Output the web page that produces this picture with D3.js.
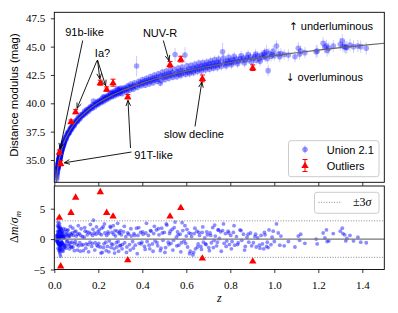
<!DOCTYPE html>
<html><head><meta charset="utf-8">
<script src="https://cdn.jsdelivr.net/npm/d3@7"></script>
<style>body{margin:0;background:#fff}svg{display:block}</style>
</head><body><svg id="c" width="398" height="313"></svg>
<script>
// ---------------- data ----------------
const unionZ = [
0.0105,0.011,0.012,0.012,0.013,0.014,0.014,0.015,0.015,0.016,0.016,0.016,0.017,0.017,0.017,0.018,0.018,0.018,0.019,0.019,
0.019,0.020,0.020,0.020,0.021,0.021,0.021,0.022,0.022,0.022,0.023,0.023,0.023,0.024,0.024,0.024,0.025,0.025,0.025,0.026,
0.026,0.026,0.027,0.027,0.027,0.028,0.028,0.028,0.029,0.029,0.029,0.030,0.030,0.031,0.031,0.032,0.032,0.033,0.033,0.034,
0.035,0.036,0.036,0.037,0.038,0.039,0.040,0.041,0.042,0.043,0.044,0.046,0.048,0.050,0.052,0.054,0.056,0.058,0.060,
0.062,0.064,0.066,0.068,0.070,0.072,0.074,0.076,0.078,0.080,0.082,0.085,0.088,0.090,0.093,0.096,0.100,0.103,0.106,0.110,
0.113,0.116,0.120,0.124,0.128,0.132,0.136,0.140,0.145,0.150,0.154,0.158,0.162,0.166,0.170,0.174,0.178,0.182,0.186,0.190,
0.194,0.198,0.202,0.206,0.210,0.214,0.218,0.222,0.226,0.230,0.234,0.238,0.242,0.246,0.250,0.254,0.258,0.262,0.266,0.270,
0.274,0.278,0.282,0.286,0.290,0.295,0.300,
0.305,0.310,0.315,0.320,0.325,0.330,0.338,0.345,0.350,0.356,0.362,0.368,0.374,0.380,0.386,0.392,0.398,0.404,0.410,0.416,
0.422,0.428,0.434,0.440,0.446,0.452,0.458,0.464,0.470,0.476,0.482,0.488,0.494,0.500,0.506,0.512,0.518,0.524,0.530,0.536,
0.542,0.549,0.555,0.560,0.566,0.572,0.578,0.584,0.590,0.594,0.600,0.606,0.612,0.618,0.624,0.630,0.636,0.642,0.648,0.654,
0.660,0.666,0.672,0.678,0.684,0.690,0.696,0.702,0.708,0.714,0.720,0.726,0.732,0.738,0.744,0.750,0.756,0.765,0.772,0.778,
0.784,0.790,0.796,0.802,0.808,0.814,0.820,0.828,0.836,0.844,0.852,0.860,0.868,0.876,0.884,0.892,
0.905,0.912,0.918,0.925,0.932,0.940,0.946,0.952,0.958,0.965,0.972,0.976,0.985,0.990,1.000,1.010,1.018,1.030,1.045,1.064,
1.094,1.109,1.120,1.139,1.190,1.195,1.222,1.237,1.240,1.248,1.268,1.309,1.312,1.320,1.325,1.344,1.360,1.380,1.393,1.418,
0.0155,0.0175,0.0185,0.0205,0.0215,0.0235,0.0245,0.0255,0.0265,0.0275,0.0285,0.0295,0.0315,0.0325,0.0345,0.0355,0.0375,0.0395,0.0415,0.0435,
0.0455,0.0475,0.0510,0.0550,0.0590,
0.063,0.069,0.073,0.079,0.084,0.091,0.098,0.105,0.109,0.118,0.122,0.131,0.138,0.143,0.148,0.156,0.164,0.172,0.176,0.184,
0.192,0.199,0.204,0.212,0.216,0.224,0.228,0.236,0.244,0.248,0.256,0.260,0.268,0.272,0.276,0.284,0.288,0.292,0.297,0.299,
0.302,0.308,0.318,0.328,0.334,0.342,0.348,0.359,0.365,0.377,0.384,0.395,0.401,0.413,0.419,0.431,0.437,0.449,0.455,0.467,
0.473,0.485,0.491,0.503,0.509,0.521,0.527,0.539,0.545,0.557,0.563,0.575,0.581,0.597,0.603,0.615,0.621,0.633,0.639,0.651,
0.657,0.669,0.675,0.687,0.693,0.705,0.711,0.723,0.729,0.741,0.747,0.759,0.769,0.781,0.793,0.805,0.817,0.833,0.849,0.865,
0.881,0.897,
0.915,0.935,0.955,0.968,0.995,1.025,1.115,1.230,1.300,1.330];
const unionMu = [
33.30,33.45,33.62,33.75,33.85,33.92,34.08,34.10,34.25,34.22,34.38,34.30,34.35,34.48,34.62,34.45,34.58,34.70,34.60,34.75,
34.66,34.70,34.82,34.95,34.80,34.92,35.05,34.90,35.02,35.12,35.00,35.12,35.25,35.08,35.20,34.98,35.18,35.30,35.40,35.25,
35.38,35.15,35.35,35.48,35.58,35.42,35.55,35.30,35.52,35.64,35.72,35.60,35.72,35.68,35.80,35.78,35.90,35.85,35.95,35.90,
36.05,36.02,36.15,36.10,36.24,36.22,36.35,36.30,36.45,36.52,36.48,36.68,36.72,36.85,36.88,37.02,37.05,37.18,37.20,
37.35,37.30,37.48,37.45,37.62,37.60,37.75,37.70,37.88,37.85,38.00,37.95,38.15,38.10,38.30,38.25,38.45,38.40,38.58,38.55,
38.75,38.70,38.88,38.85,39.02,38.98,39.15,39.22,39.20,39.42,39.38,39.55,39.48,39.65,39.58,39.75,40.20,39.88,39.82,39.98,
39.90,40.10,40.02,40.18,40.12,40.28,40.20,40.55,40.30,40.48,40.40,40.55,40.48,40.65,40.58,40.90,40.62,41.00,40.70,40.88,
40.78,40.95,40.88,41.30,40.95,41.12,41.02,
41.15,41.05,41.25,41.12,41.30,41.20,41.45,41.30,41.50,41.40,41.60,41.48,43.29,41.70,41.62,41.85,41.72,41.90,41.78,42.00,
41.85,42.05,41.92,42.15,42.00,42.22,42.08,42.30,42.12,42.35,41.76,42.45,42.28,42.50,42.32,42.58,42.40,42.62,42.48,42.72,
42.52,44.30,42.60,42.78,42.55,42.85,42.62,42.92,42.70,44.26,42.92,42.75,43.02,42.80,43.05,42.85,43.12,42.95,43.20,43.00,
43.25,43.05,43.30,43.12,43.35,43.18,43.42,43.22,43.48,43.25,43.52,43.30,43.55,43.35,43.62,43.40,43.65,44.55,43.48,43.70,
43.50,43.75,43.55,43.80,43.60,43.85,43.65,43.90,43.70,43.95,43.75,44.00,43.82,44.05,43.85,44.10,
43.95,44.15,43.80,44.20,43.90,44.25,44.05,44.30,44.10,44.56,42.88,44.40,44.15,44.30,44.20,45.06,44.35,44.40,44.30,44.26,
44.11,44.85,44.60,44.47,44.56,44.62,45.29,45.06,44.66,44.85,45.06,45.52,45.06,45.00,44.90,45.15,45.00,45.06,45.00,44.85,
34.30,34.38,34.78,34.62,35.00,35.30,35.02,35.12,35.50,35.30,35.68,35.45,35.65,35.98,36.10,35.88,36.30,36.15,36.50,36.38,
36.72,36.60,37.00,36.90,37.30,
37.45,37.40,37.80,37.72,38.10,38.02,38.45,38.40,38.75,38.65,39.00,38.95,39.32,39.10,39.45,39.30,39.70,39.55,39.90,39.68,
40.10,39.90,40.25,40.05,40.40,40.15,40.60,40.30,40.70,40.42,40.85,40.55,40.98,40.65,41.10,40.75,41.20,40.85,41.25,40.90,
41.35,40.85,41.40,41.00,41.55,41.15,41.70,41.25,41.80,41.40,41.95,41.55,42.10,41.60,42.20,41.70,42.35,41.80,42.50,41.95,
42.60,42.00,42.75,42.10,42.85,42.20,42.95,42.30,43.00,42.35,43.10,42.45,43.20,42.55,43.30,42.60,43.35,42.70,43.45,42.80,
43.55,42.85,43.60,42.95,43.65,43.00,43.75,43.10,43.85,43.15,43.90,43.25,44.00,43.30,44.05,43.40,44.15,43.50,44.20,43.55,
44.30,43.65,
44.35,43.70,44.45,43.95,44.60,44.10,44.35,44.95,45.20,44.95];
const unionErr = [
.22,.20,.20,.18,.18,.17,.16,.16,.16,.15,.15,.15,.15,.14,.14,.14,.14,.14,.13,.13,
.13,.13,.13,.13,.13,.12,.12,.12,.12,.12,.12,.12,.12,.12,.12,.12,.12,.11,.11,.11,
.11,.11,.11,.11,.11,.11,.11,.11,.11,.11,.11,.10,.10,.10,.10,.10,.10,.10,.10,.10,
.10,.10,.10,.10,.10,.10,.10,.10,.10,.10,.10,.10,.10,.10,.10,.10,.10,.10,.10,
.12,.12,.12,.12,.12,.12,.12,.12,.12,.12,.12,.12,.12,.12,.12,.12,.13,.13,.13,.13,
.13,.13,.13,.13,.13,.13,.13,.13,.13,.13,.13,.13,.13,.13,.13,.13,.14,.14,.14,.14,
.14,.14,.14,.14,.14,.14,.14,.14,.14,.15,.15,.15,.15,.15,.15,.15,.15,.15,.15,.15,
.15,.15,.15,.15,.15,.15,.16,
.18,.18,.18,.18,.18,.18,.18,.18,.18,.18,.20,.20,.90,.20,.20,.20,.20,.22,.22,.22,
.22,.22,.22,.22,.22,.24,.24,.24,.24,.24,.24,.26,.26,.26,.26,.26,.26,.28,.28,.28,
.28,.60,.28,.28,.28,.30,.30,.30,.30,.70,.30,.30,.30,.30,.30,.30,.30,.30,.30,.32,
.32,.32,.32,.32,.32,.32,.32,.32,.34,.34,.34,.34,.34,.34,.34,.34,.36,.80,.36,.36,
.36,.36,.36,.38,.38,.38,.38,.38,.38,.40,.40,.40,.40,.40,.40,.40,
.40,.40,.40,.40,.42,.42,.42,.42,.45,.60,.50,.45,.45,.45,.45,.50,.45,.45,.45,.50,
.50,.55,.50,.50,.55,.55,.55,.55,.55,.55,.55,.60,.55,.55,.55,.55,.55,.55,.55,.55,
.16,.15,.14,.13,.13,.12,.12,.12,.11,.11,.11,.11,.10,.10,.10,.10,.10,.10,.10,.10,
.10,.10,.10,.10,.10,
.13,.13,.13,.13,.13,.13,.13,.13,.14,.14,.14,.14,.14,.14,.14,.14,.14,.14,.15,.15,
.15,.15,.15,.15,.15,.15,.16,.16,.16,.16,.16,.16,.16,.16,.17,.17,.17,.17,.17,.17,
.20,.20,.20,.20,.22,.22,.22,.22,.22,.24,.24,.24,.24,.26,.26,.26,.26,.26,.28,.28,
.28,.28,.30,.30,.30,.30,.30,.30,.30,.30,.32,.32,.32,.32,.32,.32,.32,.34,.34,.34,
.34,.34,.34,.36,.36,.36,.36,.36,.38,.38,.38,.38,.38,.40,.40,.40,.40,.40,.42,.42,
.42,.42,
.45,.45,.45,.45,.50,.50,.50,.55,.55,.55];
const unionPull = [
-0.3,0.4,-0.2,0.6,0.2,-0.4,0.7,-0.3,2.2,-0.5,0.8,0.1,-0.6,0.5,2.8,-0.8,0.2,1.2,-0.6,0.7,
-0.1,-0.7,0.3,1.9,-0.9,0.3,2.3,-0.8,0.2,1.4,-0.9,0.3,2.6,-1.2,0.2,-2.1,-0.8,0.4,1.3,-1.1,
0.2,-2.4,-0.9,0.6,2.0,-1.0,0.4,-2.8,-0.8,0.5,1.5,-0.9,0.5,-0.6,1.0,-0.4,0.9,-0.5,0.6,-0.7,
0.4,-0.6,0.8,-0.9,0.5,-0.8,0.3,-1.4,0.2,0.6,-1.0,0.5,-0.9,0.3,-1.1,0.8,-0.4,1.4,-0.3,
0.6,-0.8,0.4,-1.1,0.5,-0.6,0.9,-1.2,0.7,-0.5,1.0,-1.3,0.6,-0.7,1.2,-0.4,0.5,-0.9,0.8,-1.1,
0.9,-0.6,0.6,-1.0,0.4,-1.9,0.3,1.3,-0.8,0.7,-0.9,1.1,-0.5,0.9,-1.2,0.6,3.1,1.0,-0.6,0.8,
-1.0,1.2,-0.7,0.9,-1.3,0.7,-2.2,2.0,-0.8,1.0,-0.5,0.6,-1.2,0.9,-0.3,2.1,-1.4,1.1,-0.9,0.8,
-2.3,0.5,-0.6,1.3,-0.4,0.9,-1.0,
0.7,-0.9,1.2,-0.6,0.4,-1.3,0.8,-1.8,0.5,-0.4,0.9,-1.0,1.8,0.6,-0.7,1.1,-0.5,0.8,-1.2,1.0,
-0.4,0.6,-1.6,1.3,-0.8,0.9,-0.3,1.5,-1.1,0.7,-1.9,1.8,-0.2,1.1,-1.4,2.3,-0.5,0.9,-0.7,1.6,
-0.2,2.8,0.3,1.2,-1.0,0.8,-0.6,1.4,-0.3,2.2,0.5,-1.3,1.0,-2.0,0.4,-2.6,0.9,-1.6,1.3,-0.8,
0.6,-1.2,1.1,-0.5,0.2,-0.9,0.7,-1.4,1.0,-0.6,1.9,-0.2,0.5,-1.1,1.5,0.1,1.2,1.4,-0.7,0.9,
-0.3,1.3,-0.9,0.6,-0.4,1.1,-1.0,0.4,-0.6,1.5,-0.2,0.8,-1.2,0.3,-0.5,1.0,
-0.6,0.4,-1.3,0.2,-1.0,0.6,-0.8,-1.6,0.7,-1.2,-1.4,1.5,-0.9,0.3,-0.4,2.5,1.0,0.5,-1.1,-0.4,
-1.3,0.5,0.8,-0.7,0.0,-0.8,1.0,1.5,-0.4,-0.3,0.9,1.8,0.9,0.7,-0.3,0.6,-0.3,0.3,-0.5,-0.6,
1.3,-1.5,2.0,-1.8,1.1,1.8,-1.6,-1.9,1.2,-1.5,1.7,-1.7,-1.3,1.6,1.3,-1.9,1.1,-2.0,1.7,-1.6,
1.2,-1.3,1.6,-1.5,0.9,
1.5,-1.6,2.1,-1.4,1.8,-1.9,1.3,-1.8,2.2,-2.0,1.7,-0.9,1.9,-1.5,1.2,-2.1,2.4,-0.7,1.6,-1.8,
2.0,-1.2,1.5,-2.3,1.8,-1.4,2.5,-1.9,1.2,-2.1,1.9,-0.8,2.2,-1.6,1.4,-1.3,2.6,-2.0,1.1,-1.1,
1.4,-1.6,2.1,-2.2,1.0,-0.9,1.7,-1.5,0.6,-2.4,1.9,-0.8,1.2,-1.7,2.6,-1.0,1.4,-2.0,2.1,-0.6,
1.7,-1.5,1.0,-2.2,2.5,-0.9,1.3,-1.8,1.9,-1.1,0.7,-2.1,2.7,-0.7,1.6,-2.4,0.9,-2.2,1.8,-1.3,
1.1,-1.7,2.0,-0.8,1.2,-1.9,0.6,-1.4,2.3,-0.5,1.5,-2.0,2.5,-1.2,1.0,-1.6,2.2,-0.9,1.4,-1.8,
0.8,-1.1,
0.8,-1.5,1.1,-0.5,1.3,-1.0,-0.2,0.2,1.3,0.1];

const outZ    = [0.023,0.029,0.076,0.097,0.209,0.238,0.267,0.334,0.526,0.575,0.673,0.902];
const outMu   = [35.68,34.70,38.38,39.26,41.82,41.26,41.82,40.58,43.44,43.90,42.20,43.14];
const outErr  = [0.20,0.22,0.15,0.18,0.22,0.19,0.31,0.19,0.25,0.25,0.30,0.25];
const outPull = [3.6,-4.4,4.4,6.9,7.8,4.4,3.8,-3.4,3.8,5.2,-3.1,-3.6];

const modelZ  = [0.009,0.012,0.015,0.02,0.025,0.03,0.04,0.05,0.06,0.07,0.08,0.1,0.12,0.15,0.2,0.25,0.3,0.35,0.4,0.5,0.6,0.7,0.8,0.9,1.0,1.1,1.2,1.3,1.4,1.5];
const modelMu = [33.03,33.66,34.15,34.78,35.27,35.68,36.32,36.82,37.23,37.58,37.89,38.40,38.82,39.35,40.04,40.59,41.04,41.41,41.78,42.36,42.84,43.25,43.60,43.92,44.21,44.46,44.70,44.92,45.12,45.30];

const xTicks = [0,0.2,0.4,0.6,0.8,1.0,1.2,1.4];
const topTicks = [35,37.5,40,42.5,45,47.5];
const botTicks = [-5,0,5];
const sigmaLevels = [-3,3];

// ---------------- drawing ----------------
const svg = d3.select('#c');
const SERIF = '"Liberation Serif","DejaVu Serif",serif';
const SANS = '"Liberation Sans",Arial,"DejaVu Sans",sans-serif';
svg.append('rect').attr('width',398).attr('height',313).attr('fill','#fff');

const L = 54.3, R = 384.3;
const tTop = 12.3, tBot = 182.3, bTop = 186, bBot = 269.5;
const x  = d3.scaleLinear().domain([0,1.5]).range([L,R]);
const yT = d3.scaleLinear().domain([33.03,48.03]).range([tBot,tTop]);
const yB = d3.scaleLinear().domain([-5,8.73]).range([bBot,bTop]);

const defs = svg.append('defs');
defs.append('clipPath').attr('id','clipT').append('rect').attr('x',L).attr('y',tTop).attr('width',R-L).attr('height',tBot-tTop);
defs.append('clipPath').attr('id','clipB').append('rect').attr('x',L).attr('y',bTop).attr('width',R-L).attr('height',bBot-bTop);

const union = unionZ.map((z,i)=>({z, mu:unionMu[i], err:unionErr[i], pull:unionPull[i]}));
const outl = outZ.map((z,i)=>({z, mu:outMu[i], err:outErr[i], pull:outPull[i]}));
const tri = 'M0,-3.8L3.7,2.6L-3.7,2.6Z';

// top panel
const gT = svg.append('g').attr('clip-path','url(#clipT)');
gT.selectAll('line.eb').data(union).join('line').attr('class','eb')
  .attr('x1',d=>x(d.z)).attr('x2',d=>x(d.z))
  .attr('y1',d=>yT(d.mu-d.err)).attr('y2',d=>yT(d.mu+d.err))
  .attr('stroke','rgba(0,0,255,0.2)').attr('stroke-width',1);
gT.selectAll('circle').data(union).join('circle')
  .attr('cx',d=>x(d.z)).attr('cy',d=>yT(d.mu)).attr('r',2.8)
  .attr('fill','rgba(0,0,255,0.35)');
gT.append('path').datum(modelZ.map((z,i)=>[z,modelMu[i]]))
  .attr('d',d3.line().x(d=>x(d[0])).y(d=>yT(d[1])).curve(d3.curveMonotoneX))
  .attr('fill','none').attr('stroke','#666').attr('stroke-width',1.2);
const oT = gT.selectAll('g.o').data(outl).join('g').attr('class','o');
oT.append('line').attr('x1',d=>x(d.z)).attr('x2',d=>x(d.z)).attr('y1',d=>yT(d.mu-d.err)).attr('y2',d=>yT(d.mu+d.err)).attr('stroke','red').attr('stroke-width',1);
oT.append('line').attr('x1',d=>x(d.z)-2.5).attr('x2',d=>x(d.z)+2.5).attr('y1',d=>yT(d.mu-d.err)).attr('y2',d=>yT(d.mu-d.err)).attr('stroke','red').attr('stroke-width',1);
oT.append('line').attr('x1',d=>x(d.z)-2.5).attr('x2',d=>x(d.z)+2.5).attr('y1',d=>yT(d.mu+d.err)).attr('y2',d=>yT(d.mu+d.err)).attr('stroke','red').attr('stroke-width',1);
oT.append('path').attr('d',tri).attr('transform',d=>`translate(${x(d.z)},${yT(d.mu)})`).attr('fill','red');

// bottom panel
const gB = svg.append('g').attr('clip-path','url(#clipB)');
gB.selectAll('line.s').data(sigmaLevels).join('line').attr('class','s')
  .attr('x1',L).attr('x2',R).attr('y1',d=>yB(d)).attr('y2',d=>yB(d))
  .attr('stroke','#888').attr('stroke-width',1).attr('stroke-dasharray','1,1.6');
gB.selectAll('circle').data(union).join('circle')
  .attr('cx',d=>x(d.z)).attr('cy',d=>yB(d.pull)).attr('r',1.9)
  .attr('fill','rgba(0,0,255,0.45)');
gB.append('line').attr('x1',L).attr('x2',R).attr('y1',yB(0)).attr('y2',yB(0)).attr('stroke','#777').attr('stroke-width',1.2);
gB.selectAll('path.o').data(outl).join('path').attr('class','o').attr('d',tri)
  .attr('transform',d=>`translate(${x(d.z)},${yB(d.pull)})`).attr('fill','red');

// axes
function styleAxis(g){
  g.attr('font-family',SERIF).attr('font-size',11);
  g.select('.domain').remove();
  g.selectAll('line').attr('stroke-width',0.8);
  g.selectAll('text').attr('fill','#000');
}
svg.append('g').attr('transform',`translate(${L},0)`)
  .call(d3.axisLeft(yT).tickValues(topTicks).tickFormat(d3.format('.1f')).tickSize(3.5).tickPadding(5.5)).call(styleAxis);
svg.append('g').attr('transform',`translate(0,${tBot})`)
  .call(d3.axisBottom(x).tickValues(xTicks).tickFormat('').tickSize(3.5)).call(styleAxis);
svg.append('g').attr('transform',`translate(${L},0)`)
  .call(d3.axisLeft(yB).tickValues(botTicks).tickFormat(d3.format('d')).tickSize(3.5).tickPadding(5.5)).call(styleAxis);
svg.append('g').attr('transform',`translate(0,${bBot})`)
  .call(d3.axisBottom(x).tickValues(xTicks).tickFormat(d3.format('.1f')).tickSize(3.5).tickPadding(7.7)).call(styleAxis);

svg.append('rect').attr('x',L).attr('y',tTop).attr('width',R-L).attr('height',tBot-tTop).attr('fill','none').attr('stroke','#000').attr('stroke-width',0.9);
svg.append('rect').attr('x',L).attr('y',bTop).attr('width',R-L).attr('height',bBot-bTop).attr('fill','none').attr('stroke','#000').attr('stroke-width',0.9);

// axis labels
svg.append('text').attr('transform','translate(18,95) rotate(-90)').attr('text-anchor','middle')
  .attr('font-family',SANS).attr('font-size',11.4).text('Distance modulus (mag)');
const yl = svg.append('text').attr('transform','translate(18,227) rotate(-90)').attr('text-anchor','middle')
  .attr('font-family',SERIF).attr('font-size',12);
yl.append('tspan').text('Δ');
yl.append('tspan').attr('font-style','italic').text('m');
yl.append('tspan').text('/');
yl.append('tspan').attr('font-style','italic').text('σ');
yl.append('tspan').attr('font-style','italic').attr('font-size',8.5).attr('dy',2.5).text('m');
svg.append('text').attr('x',(L+R)/2).attr('y',302).attr('text-anchor','middle')
  .attr('font-family',SERIF).attr('font-style','italic').attr('font-size',12).text('z');

// annotations
const notes = [
  {text:'91b-like', x:84.5, y:35.5, arrows:[{from:[82.7,40.5], to:0}]},
  {text:'Ia?', x:102.5, y:56.5, arrows:[{from:[97.5,60], to:4},{from:[97.5,60], to:5},{from:[97,60.5], to:3}]},
  {text:'NUV-R', x:160, y:36.5, arrows:[{from:[163.3,40.5], to:8}]},
  {text:'slow decline', x:194, y:137.7, arrows:[{from:[195,126.5], to:10}]},
  {text:'91T-like', x:153.5, y:159, arrows:[{from:[131.5,152], to:1},{from:[130.5,148], to:7}]}
];
const ga = svg.append('g');
notes.forEach(n=>{
  ga.append('text').attr('x',n.x).attr('y',n.y).attr('text-anchor','middle')
    .attr('font-family',SANS).attr('font-size',11).text(n.text);
  n.arrows.forEach(a=>{
    const tx = x(outZ[a.to]), ty = yT(outMu[a.to]);
    const dx = a.from[0]-tx, dy = a.from[1]-ty, len = Math.hypot(dx,dy);
    const ux = dx/len, uy = dy/len;
    const px = tx+ux*3.6, py = ty+uy*3.6;
    ga.append('line').attr('x1',a.from[0]).attr('y1',a.from[1]).attr('x2',px).attr('y2',py)
      .attr('stroke','#000').attr('stroke-width',0.9);
    const hl = 5.5, hw = 2.3;
    [1,-1].forEach(s=>{
      ga.append('line').attr('x1',px).attr('y1',py)
        .attr('x2',px+ux*hl - uy*hw*s).attr('y2',py+uy*hl + ux*hw*s)
        .attr('stroke','#000').attr('stroke-width',0.9);
    });
  });
});
const up = ga.append('text').attr('x',289).attr('y',30).attr('font-family',SANS).attr('font-size',11).attr('fill','#000');
up.append('tspan').attr('font-family','"DejaVu Sans"').attr('font-size',10.5).text('↑');
up.append('tspan').text(' underluminous');
const dn = ga.append('text').attr('x',285.7).attr('y',81).attr('font-family',SANS).attr('font-size',11).attr('fill','#000');
dn.append('tspan').attr('font-family','"DejaVu Sans"').attr('font-size',10.5).text('↓');
dn.append('tspan').text(' overluminous');

// legend top
const lg = svg.append('g');
lg.append('rect').attr('x',288.5).attr('y',140.7).attr('width',90.5).attr('height',36).attr('rx',2.5)
  .attr('fill','rgba(255,255,255,0.85)').attr('stroke','#ccc').attr('stroke-width',1);
lg.append('line').attr('x1',305).attr('x2',305).attr('y1',145.5).attr('y2',153.5).attr('stroke','rgba(0,0,255,0.3)').attr('stroke-width',1);
lg.append('circle').attr('cx',305).attr('cy',149.5).attr('r',2.8).attr('fill','rgba(0,0,255,0.4)');
lg.append('text').attr('x',326.7).attr('y',154).attr('font-family',SANS).attr('font-size',11).text('Union 2.1');
lg.append('line').attr('x1',305).attr('x2',305).attr('y1',159.5).attr('y2',171.5).attr('stroke','red').attr('stroke-width',1);
[159.5,171.5].forEach(yy=>lg.append('line').attr('x1',302.5).attr('x2',307.5).attr('y1',yy).attr('y2',yy).attr('stroke','red').attr('stroke-width',1));
lg.append('path').attr('d',tri).attr('transform','translate(305,165.5)').attr('fill','red');
lg.append('text').attr('x',326.7).attr('y',170).attr('font-family',SANS).attr('font-size',11).text('Outliers');

// legend bottom
const lb = svg.append('g');
lb.append('rect').attr('x',314.5).attr('y',192.3).attr('width',64.5).attr('height',21).attr('rx',2.5)
  .attr('fill','rgba(255,255,255,0.85)').attr('stroke','#ccc').attr('stroke-width',1);
lb.append('line').attr('x1',318.5).attr('x2',342).attr('y1',202.3).attr('y2',202.3).attr('stroke','#888').attr('stroke-width',1).attr('stroke-dasharray','1,1.6');
const st = lb.append('text').attr('x',353).attr('y',206).attr('font-family',SERIF).attr('font-size',12);
st.append('tspan').text('±3');
st.append('tspan').attr('font-style','italic').text('σ');
</script></body></html>
